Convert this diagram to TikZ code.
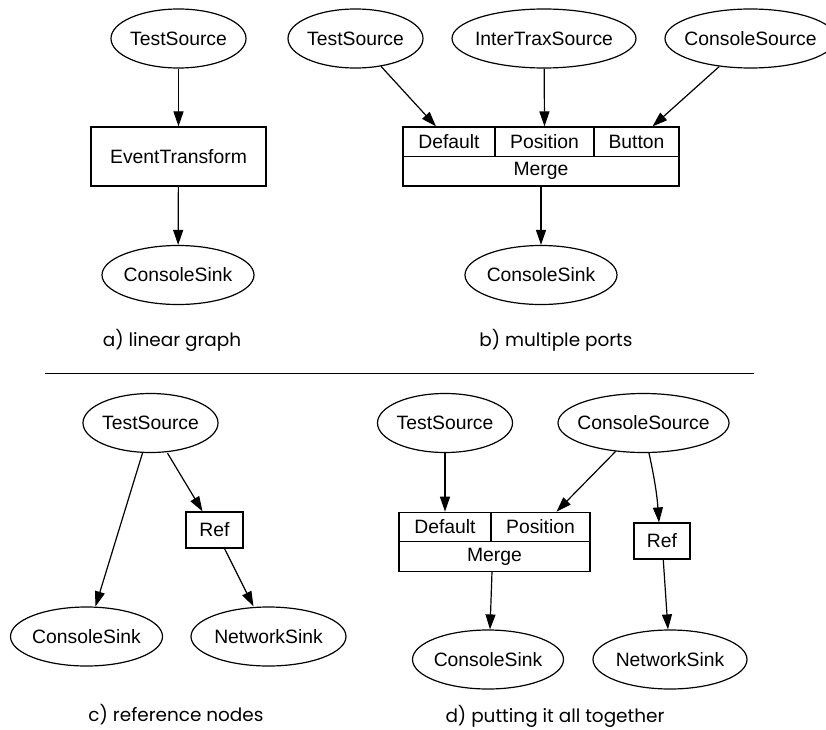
\documentclass[tikz,border=0pt]{standalone}
\usepackage{fontspec}
\setmainfont{Liberation Sans}
\newfontfamily\capfont{Poppins}
\usetikzlibrary{shapes.geometric,arrows.meta}
\begin{document}
\begin{tikzpicture}[x=1bp,y=-1bp,
  every node/.style={font=\fontsize{19.4}{22}\selectfont},
  ell/.style={draw,ellipse,line width=1.2bp,inner ysep=0pt,inner xsep=-20bp,minimum height=59bp},
  box/.style={draw,rectangle,line width=1.2bp,inner sep=0pt},
  cell/.style={draw,rectangle,line width=1.2bp,inner sep=0pt,minimum height=29.5bp},
  conn/.style={line width=1.2bp,-{Triangle[length=15bp,width=10bp]}},
  captext/.style={font=\capfont\fontsize{18.5}{22}\selectfont}]
\fill[white] (0,0) rectangle (826,730);
\useasboundingbox (0,0) rectangle (826,730);
% panel a
\node[ell,minimum width=135bp] (tsa) at (178.5,38.5) {TestSource};
\node[box,minimum width=175bp,minimum height=59bp] (eta) at (178.5,156.5) {EventTransform};
\node[ell,minimum width=152bp] (csa) at (178,275) {ConsoleSink};
\draw[conn] (tsa) -- (eta);
\draw[conn] (eta) -- (csa);
\node[captext] (capa) at (172,340) {a) linear graph};
% panel b
\node[ell,minimum width=135bp] (tsb) at (355.5,38.5) {TestSource};
\node[ell,minimum width=184bp] (itb) at (544,38.5) {InterTraxSource};
\node[ell,minimum width=171bp] (csrcb) at (750.5,38.5) {ConsoleSource};
\node[cell,minimum width=92bp] (bdef) at (449,141.75) {Default};
\node[cell,minimum width=99bp] (bpos) at (544.5,141.75) {Position};
\node[cell,minimum width=85bp] (bbtn) at (636.5,141.75) {Button};
\node[cell,minimum width=276bp] (bmrg) at (541,171.25) {Merge};
\node[ell,minimum width=152bp] (csb) at (541,275) {ConsoleSink};
\draw[conn] (tsb) -- ([xshift=-13bp]bdef.north);
\draw[conn] (itb) -- (bpos.north);
\draw[conn] (csrcb) -- ([xshift=16bp]bbtn.north);
\draw[conn] (bmrg) -- (csb);
\node[captext] (capb) at (556,340) {b) multiple ports};
% separator
\draw[line width=1bp] (45,373) -- (754,373);
% panel c
\node[ell,minimum width=135bp] (tsc) at (150.5,423) {TestSource};
\node[box,minimum width=57bp,minimum height=36bp] (refc) at (214.5,530) {Ref};
\node[ell,minimum width=152bp] (csc) at (86.5,636.5) {ConsoleSink};
\node[ell,minimum width=155bp] (nsc) at (268.5,636.5) {NetworkSink};
\draw[conn] ([xshift=-8bp]tsc.south) -- ([xshift=9bp]csc.north);
\draw[conn] ([xshift=17bp]tsc.south) -- ([xshift=-12bp]refc.north);
\draw[conn] ([xshift=10bp]refc.south) -- ([xshift=-15bp]nsc.north);
\node[captext] (capc) at (176,715) {c) reference nodes};
% panel d
\node[ell,minimum width=135bp] (tsd) at (445,423) {TestSource};
\node[ell,minimum width=171bp] (csrcd) at (643.5,423) {ConsoleSource};
\node[cell,minimum width=92bp] (ddef) at (445,527) {Default};
\node[cell,minimum width=99bp] (dpos) at (540.5,527) {Position};
\node[cell,minimum width=191bp] (dmrg) at (494.5,556.5) {Merge};
\node[box,minimum width=56bp,minimum height=36bp] (refd) at (662,541) {Ref};
\node[ell,minimum width=151bp] (csd) at (488,659.5) {ConsoleSink};
\node[ell,minimum width=154bp] (nsd) at (670,659.5) {NetworkSink};
\draw[conn] (tsd) -- (ddef.north);
\draw[conn] (csrcd) -- ([xshift=16bp]dpos.north);
\draw[conn] ([xshift=5.5bp]csrcd.south) to[bend left=4] ([xshift=-3bp]refd.north);
\draw[conn] ([xshift=-2.5bp]dmrg.south) -- ([xshift=2bp]csd.north);
\draw[conn] (refd) -- (nsd);
\node[captext] (capd) at (555,716) {d) putting it all together};
\end{tikzpicture}
\end{document}
